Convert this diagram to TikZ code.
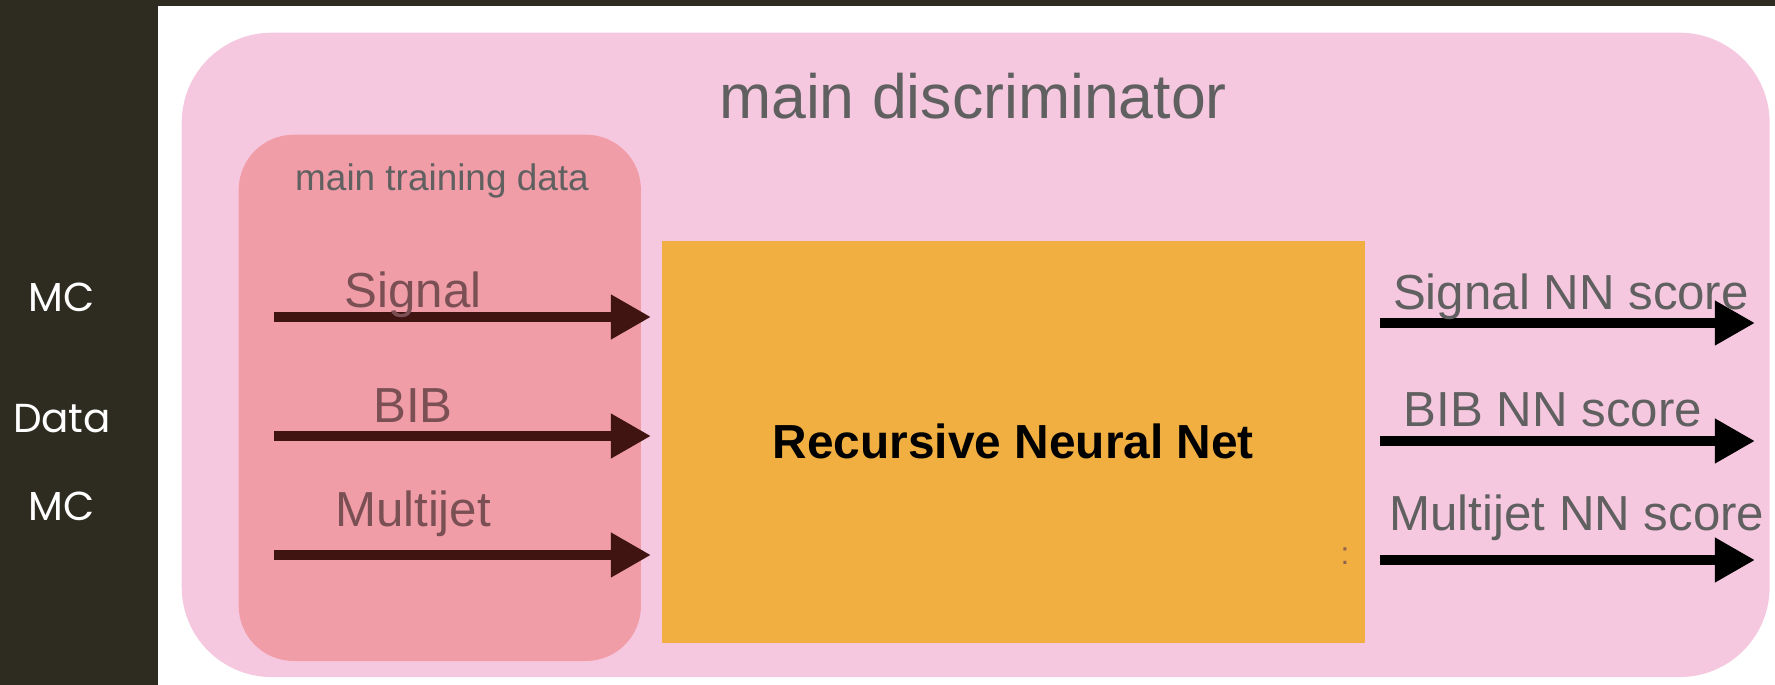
\documentclass[tikz,border=0pt]{standalone}
\usepackage{fontspec}
\setmainfont{Liberation Sans}
\newfontfamily\slidefont{Poppins}
\usetikzlibrary{positioning,arrows.meta}

\definecolor{slidebg}{RGB}{46,43,32}
\definecolor{discpink}{RGB}{246,200,224}
\definecolor{datared}{RGB}{240,157,168}
\definecolor{netorange}{RGB}{240,175,64}
\definecolor{inbrown}{RGB}{64,20,16}
\definecolor{labelgrey}{RGB}{96,96,96}
\definecolor{inlabel}{RGB}{122,80,84}

\begin{document}
\begin{tikzpicture}[x=0.01cm,y=-0.01cm,
    box/.style={inner sep=0pt,anchor=north west},
    inarrow/.style={line width=0.1cm,draw=inbrown,-{Triangle[length=0.4cm,width=0.42cm]}},
    outarrow/.style={line width=0.1cm,draw=black,-{Triangle[length=0.4cm,width=0.42cm]}},
    inname/.style={text=inlabel,font=\fontsize{14}{16}\selectfont},
    outname/.style={text=labelgrey,font=\fontsize{14}{16}\selectfont},
    side/.style={text=white,font=\slidefont\fontsize{11.5}{14}\selectfont}]
  \useasboundingbox (0,0) rectangle (1775,685);
  \fill[slidebg] (0,0) rectangle (1775,685);
  \fill[white] (158,6) rectangle (1775,685);

  % boxes
  \node[box,fill=discpink,rounded corners=0.9cm,minimum width=15.87cm,minimum height=6.44cm] (d) at (181,32) {};
  \node[box,fill=datared,rounded corners=0.55cm,minimum width=4.02cm,minimum height=5.26cm] (t) at (238,134) {};
  \node[box,fill=netorange,minimum width=7.03cm,minimum height=4.02cm,
        font=\bfseries\fontsize{13.6}{16}\selectfont] (r) at (661,240) {Recursive Neural Net};
  \node[text=labelgrey,font=\fontsize{17.8}{20}\selectfont] (dl) at (973,96) {main discriminator};
  \node[text=labelgrey,font=\fontsize{10.5}{12}\selectfont] (tl) at (442,181) {main training data};
  \node[text=inlabel!80!netorange,font=\fontsize{9}{10}\selectfont] (c) at (1345,556) {:};

  % inputs
  \coordinate (a) at (274,317);
  \coordinate (b) at (274,436);
  \coordinate (m) at (274,555);
  \draw[inarrow,shorten >=0.1cm] (a) -- (a -| r.west);
  \draw[inarrow,shorten >=0.1cm] (b) -- (b -| r.west);
  \draw[inarrow,shorten >=0.1cm] (m) -- (m -| r.west);
  \node[inname] (al) at (413,295) {Signal};
  \node[inname] (bl) at (413,406) {BIB};
  \node[inname] (ml) at (413,514) {Multijet};

  % outputs
  \coordinate (x) at (1755,323);
  \coordinate (y) at (1755,441);
  \coordinate (z) at (1755,560);
  \draw[outarrow,shorten <=0.14cm] (x -| r.east) -- (x);
  \draw[outarrow,shorten <=0.14cm] (y -| r.east) -- (y);
  \draw[outarrow,shorten <=0.14cm] (z -| r.east) -- (z);
  \node[outname] (xl) at (1571,297) {Signal NN score};
  \node[outname] (yl) at (1553,410) {BIB NN score};
  \node[outname] (zl) at (1577,518) {Multijet NN score};

  % sample origin
  \node[side] (s1) at (62,297) {MC};
  \node[side] (s2) at (62,419) {Data};
  \node[side] (s3) at (62,506) {MC};
\end{tikzpicture}
\end{document}
